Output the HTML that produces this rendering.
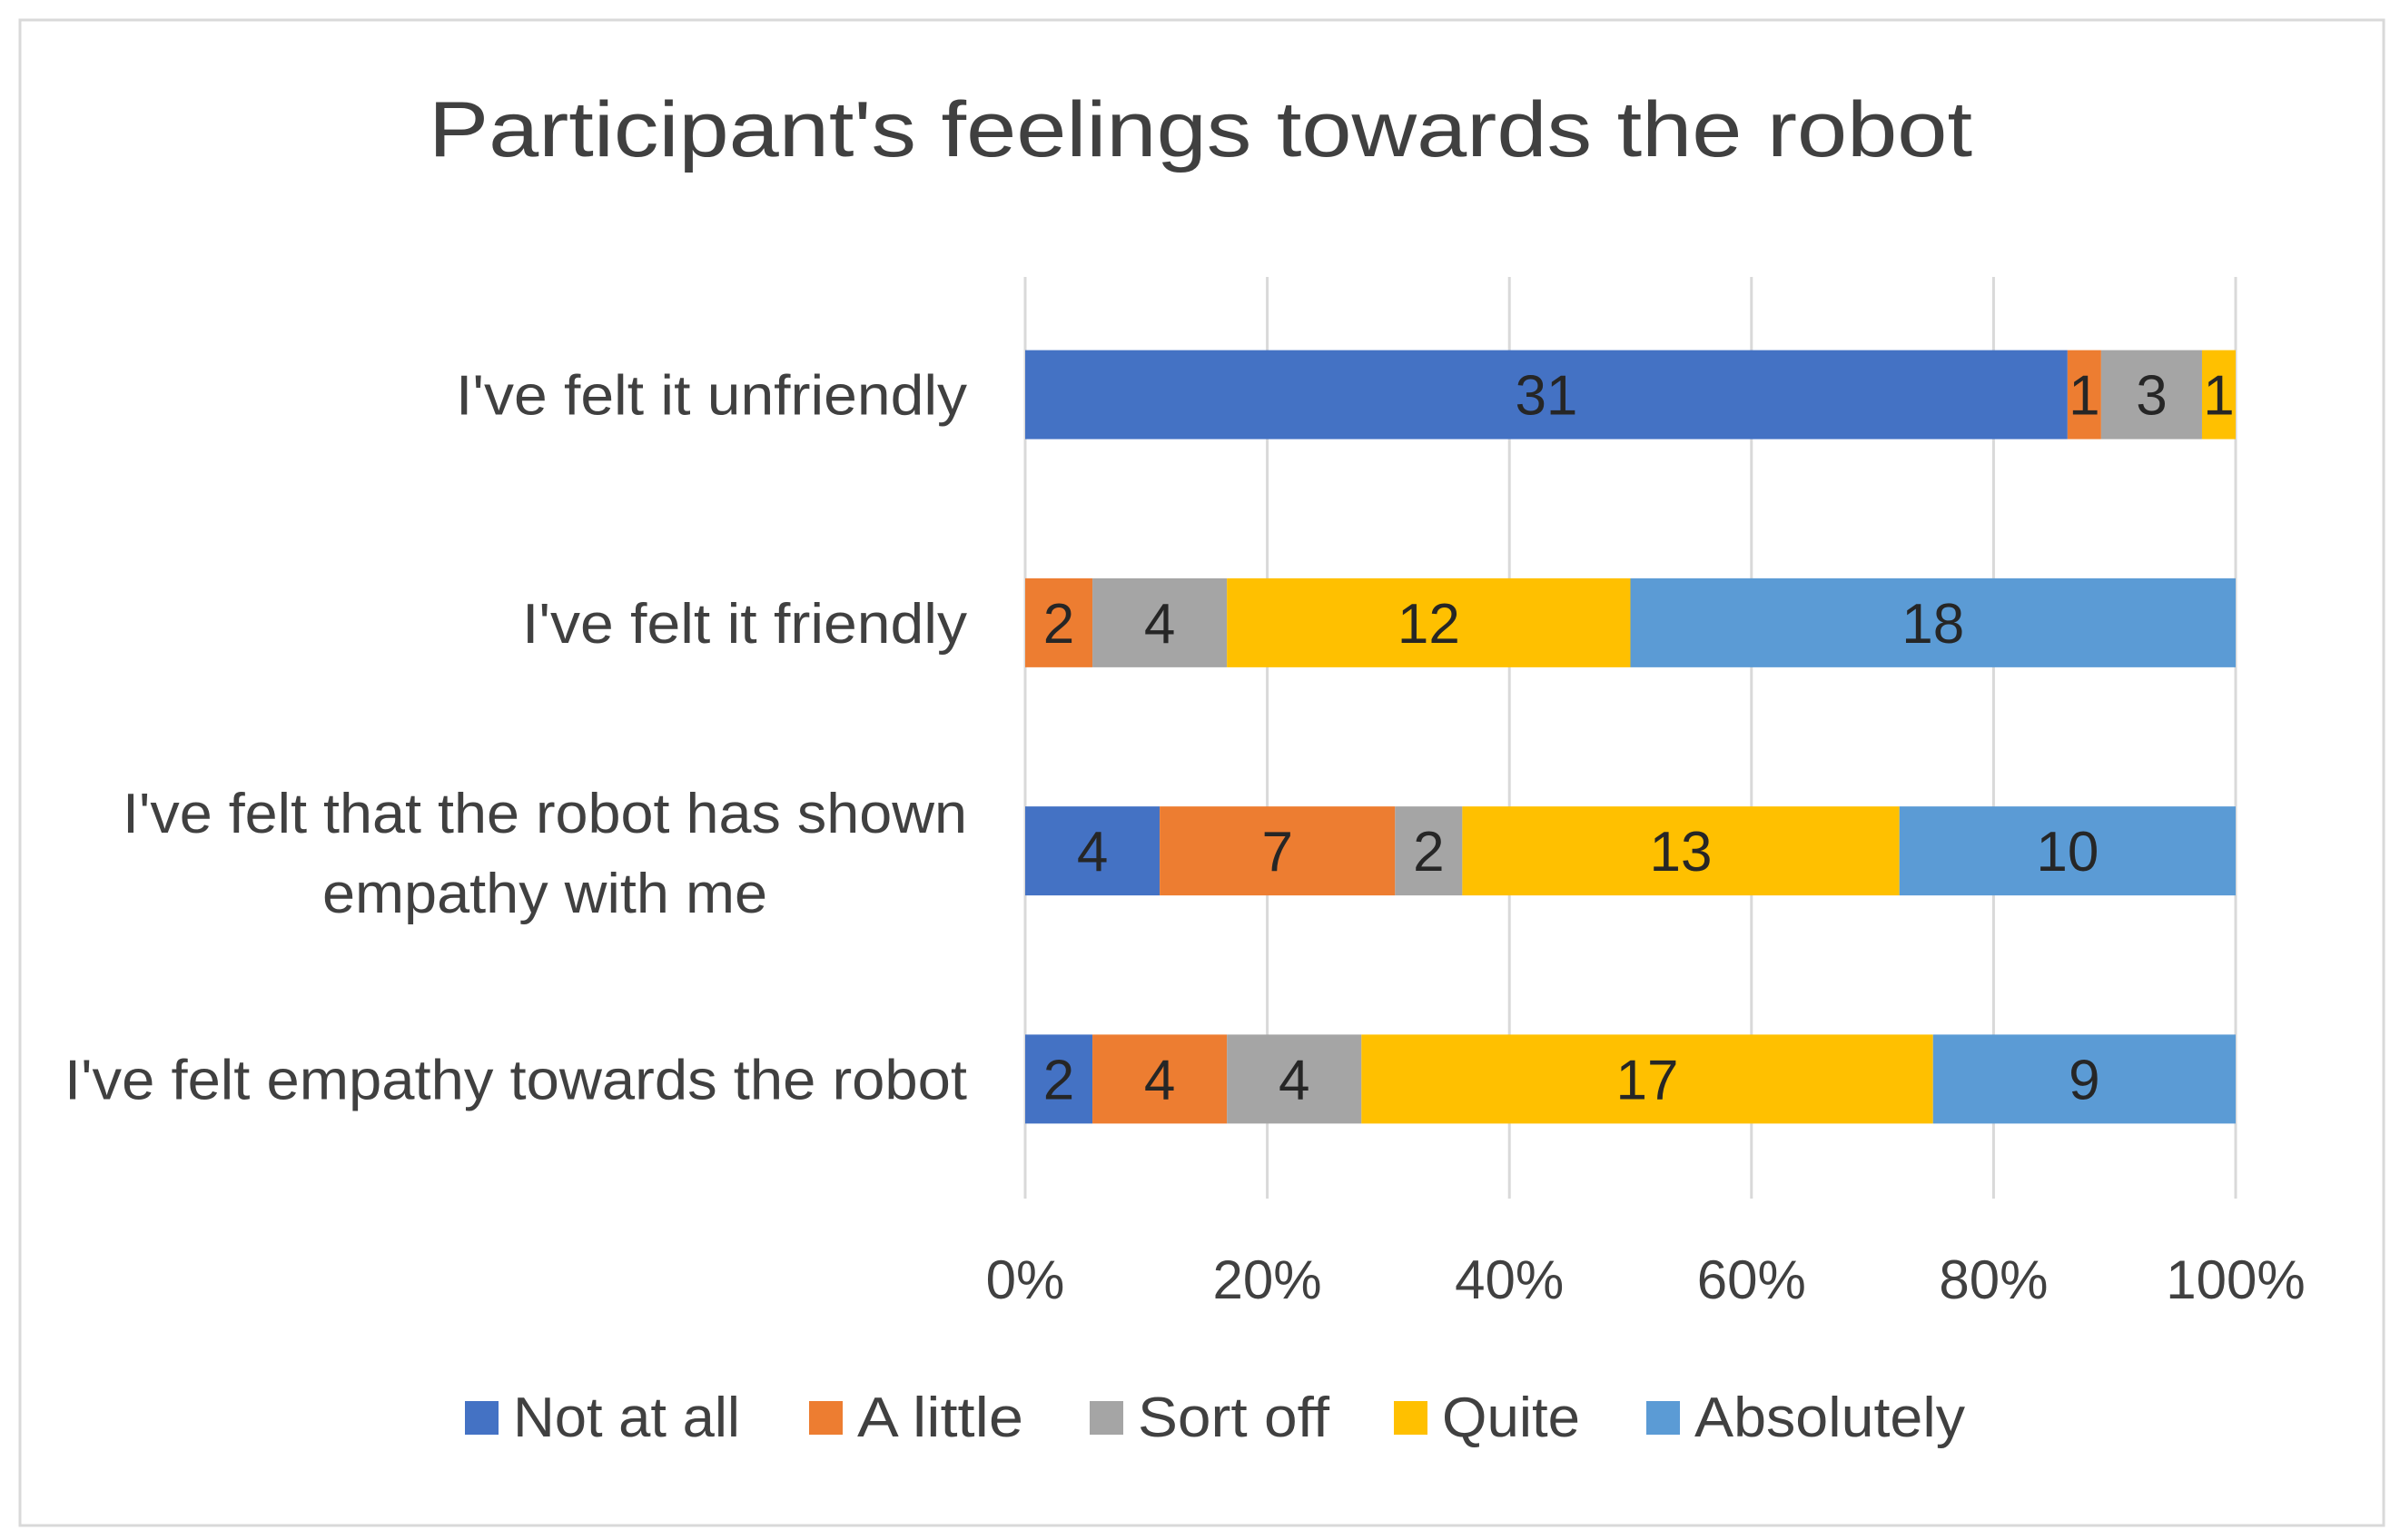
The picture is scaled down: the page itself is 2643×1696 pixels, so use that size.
<!DOCTYPE html>
<html><head><meta charset="utf-8"><style>
html,body{margin:0;padding:0;background:#fff}
svg{display:block;font-family:"Liberation Sans",sans-serif}
</style></head><body>
<svg id="chart" width="2643" height="1696" viewBox="0 0 2643 1696">
<rect x="22" y="22" width="2603" height="1658" fill="#fff" stroke="#d9d9d9" stroke-width="3"/>
<text x="1322" y="172" text-anchor="middle" font-size="86" fill="#404040" textLength="1700" lengthAdjust="spacingAndGlyphs">Participant's feelings towards the robot</text>
<g id="grid"></g><g id="bars"></g><g id="labels"></g><g id="legend"></g>
</svg>
<script>
const categories = ["I've felt it unfriendly","I've felt it friendly","I've felt that the robot has shown empathy with me","I've felt empathy towards the robot"];
const seriesNames = ["Not at all","A little","Sort off","Quite","Absolutely"];
const notAtAll = [31,0,4,2];
const aLittle = [1,2,7,4];
const sortOff = [3,4,2,4];
const quite = [1,12,13,17];
const absolutely = [0,18,10,9];
const tickLabels = ["0%","20%","40%","60%","80%","100%"];
const tickValues = [0,0.2,0.4,0.6,0.8,1];
const colors = ["#4472C4","#ED7D31","#A5A5A5","#FFC000","#5B9BD5"];
const series = [notAtAll,aLittle,sortOff,quite,absolutely];
const NS="http://www.w3.org/2000/svg";
const x0=1129,x1=2462,yTop=305,yBot=1320;
const xs=v=>x0+v*(x1-x0);
const band=(yBot-yTop-10)/categories.length;
const yc=i=>yTop+4+band*(i+0.5);
const barH=98;
function mk(tag,attrs,parent){const e=document.createElementNS(NS,tag);for(const k in attrs)e.setAttribute(k,attrs[k]);parent.appendChild(e);return e;}
const grid=document.getElementById('grid'),bars=document.getElementById('bars'),labels=document.getElementById('labels'),legend=document.getElementById('legend');
tickValues.forEach((t,i)=>{
  const l=mk('line',{x1:xs(t),x2:xs(t),y1:yTop,y2:yBot,stroke:'#d9d9d9','stroke-width':3},grid);
  
  
  const tx=mk('text',{x:xs(t),y:1430,'text-anchor':'middle','font-size':60,fill:'#404040'},grid);
  tx.textContent=tickLabels[i];
  
  
});
const catWidths=[563,490,0,994];
categories.forEach((c,i)=>{
  const total=series.reduce((s,a)=>s+a[i],0);
  let acc=0;
  const cy=yc(i);
  series.forEach((arr,s)=>{
    const v=arr[i];
    if(v>0){
      const xa=xs(acc/total),xb=xs((acc+v)/total);
      const r=mk('rect',{x:xa,y:cy-barH/2,width:xb-xa,height:barH,fill:colors[s]},bars);
      
      
      const t=mk('text',{x:(xa+xb)/2,y:cy+22,'text-anchor':'middle','font-size':62,fill:'#262626'},bars);
      t.textContent=v;
      
      
    }
    acc+=v;
  });
  if(i===2){
    const a=mk('text',{x:600,y:cy-20,'text-anchor':'middle','font-size':62,fill:'#404040',textLength:930,lengthAdjust:'spacingAndGlyphs'},labels);
    a.textContent="I've felt that the robot has shown";
    
    
    const b=mk('text',{x:600,y:cy+68,'text-anchor':'middle','font-size':62,fill:'#404040',textLength:490,lengthAdjust:'spacingAndGlyphs'},labels);
    b.textContent="empathy with me";
    
    
  } else {
    const a=mk('text',{x:1065,y:cy+22,'text-anchor':'end','font-size':62,fill:'#404040',textLength:catWidths[i],lengthAdjust:'spacingAndGlyphs'},labels);
    a.textContent=c;
    
    
  }
});
const lx=[512,891,1200,1535,1813];
const lw=[250,183,211,152,298];
seriesNames.forEach((n,s)=>{
  const r=mk('rect',{x:lx[s],y:1543,width:37,height:37,fill:colors[s]},legend);
  
  
  const t=mk('text',{x:lx[s]+53,y:1582,'font-size':62,fill:'#404040',textLength:lw[s],lengthAdjust:'spacingAndGlyphs'},legend);
  t.textContent=n;
  
  
});
</script>
</body></html>
